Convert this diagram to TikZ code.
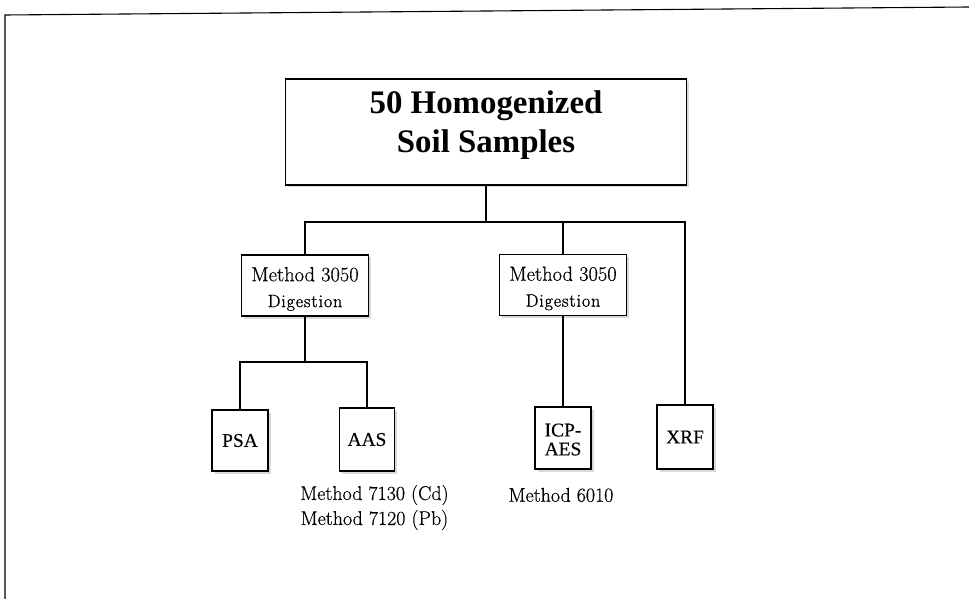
\documentclass[tikz,border=0pt]{standalone}
\usepackage{fontspec}
\newfontfamily\tnr{Liberation Serif}
\newfontfamily\tnrb[FakeBold=0.3]{Liberation Serif}
\newfontfamily\lmr[FakeBold=0.5]{Latin Modern Roman}
\newfontfamily\lmrdg[FakeBold=1.2, LetterSpace=5]{Latin Modern Roman}
\usetikzlibrary{shadows}
\tikzset{
  boxshape/.style={draw=black, line width=1.7bp, fill=white, inner sep=0pt,
    drop shadow={opacity=0.3, shadow xshift=2.5bp, shadow yshift=-2.5bp, fill=gray}},
  conn/.style={draw=black, line width=1.4bp},
  meth/.style={boxshape, align=center, minimum width=127bp, minimum height=61bp,
    font=\lmr\fontsize{20.5}{26}\selectfont},
  leaf/.style={boxshape, align=center, minimum width=56bp, minimum height=62bp,
    font=\tnrb\fontsize{19.5}{19}\selectfont},
  labeltext/.style={inner sep=0pt, font=\lmr\fontsize{20}{20}\selectfont},
  frameline/.style={draw=black, line width=1.1bp}
}
\newcommand{\methtext}{\rule{0pt}{21bp}Method 3050\\{\lmrdg\fontsize{18}{26}\selectfont Digestion}}
\begin{document}
\begin{tikzpicture}[x=1bp, y=-1bp]
\useasboundingbox (0,0) rectangle (969,599);
% outer frame (only top and left edges visible)
\coordinate (f0) at (5,599);
\coordinate (f1) at (5,15);
\coordinate (f2) at (969,7);
\draw[frameline] (f0) -- (f1) -- (f2);

% top box
\node[boxshape, minimum width=401bp, minimum height=106bp] (top) at (486,132) {};
\node[align=center, inner sep=0pt, font=\tnr\bfseries\fontsize{33}{39}\selectfont] (toptxt) at (486,125) {50 Homogenized\\Soil Samples};

% method boxes
\node[meth] (m1) at (305,285.5) {\methtext};
\node[meth] (m2) at (563,285) {\methtext};

% leaf boxes
\node[leaf, minimum height=61bp] (psa) at (240,440.5) {PSA};
\node[leaf, minimum width=55bp, minimum height=63bp] (aas) at (367,439.5) {AAS};
\node[leaf] (icp) at (563,438) {\rule{0pt}{16bp}ICP-\\AES};
\node[leaf, minimum height=64bp] (xrf) at (685,437) {XRF};

% labels
\node[labeltext] (lab1) at (374.5,495) {Method 7130 (Cd)};
\node[labeltext] (lab2) at (374.5,520) {Method 7120 (Pb)};
\node[labeltext] (lab3) at (561,495) {Method 6010};

% connectors
\coordinate (j0) at (486,222);
\coordinate (j1) at (305,362);
\draw[conn] (top.south) -- (j0);
\draw[conn] (m1.north) -- (m1.north |- j0) -- (xrf.north |- j0) -- (xrf.north);
\draw[conn] (m2.north) -- (m2.north |- j0);
\draw[conn] (m1.south) -- (j1);
\draw[conn] (psa.north) -- (psa.north |- j1) -- (aas.north |- j1) -- (aas.north);
\draw[conn] (m2.south) -- (icp.north);
\end{tikzpicture}
\end{document}
